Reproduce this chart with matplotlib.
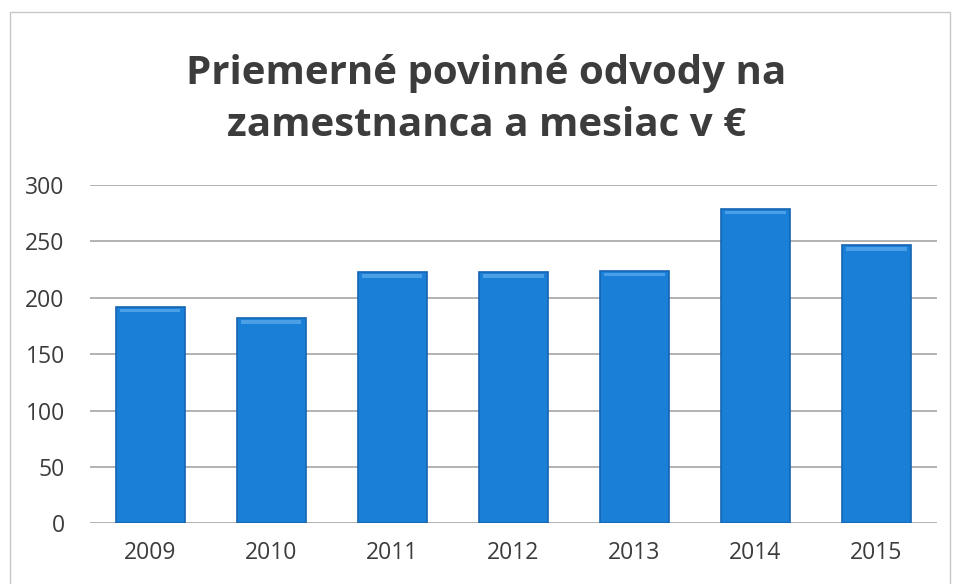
"""Average mandatory contributions per employee and month, bar chart."""

import matplotlib.pyplot as plt
from matplotlib.patches import Rectangle

YEARS = ["2009", "2010", "2011", "2012", "2013", "2014", "2015"]
VALUES = [192, 182, 223, 223, 224, 279, 247]
Y_TICKS = [0, 50, 100, 150, 200, 250, 300]
TITLE = "Priemerné povinné odvody na\nzamestnanca a mesiac v €"

BAR_COLOR = "#1a7fd6"
EDGE_COLOR = "#1565b0"
TEXT_COLOR = "#3c3c3c"


def main() -> None:
    plt.rcParams["font.family"] = ["Open Sans", "DejaVu Sans"]

    fig = plt.figure(figsize=(9.54, 5.84), dpi=100)
    ax = fig.add_axes([0.094, 0.104, 0.888, 0.579])

    x = range(len(YEARS))
    ax.bar(x, VALUES, width=0.57, color=BAR_COLOR, edgecolor=EDGE_COLOR,
           linewidth=1.2, zorder=3)
    # subtle bevel strip along the top of each bar
    ax.bar(x, [3] * len(VALUES), bottom=[v - 5 for v in VALUES], width=0.5,
           color="#4b9fe6", linewidth=0, zorder=4)

    ax.set_xlim(-0.5, len(YEARS) - 0.5)
    ax.set_ylim(0, 300)
    ax.set_yticks(Y_TICKS)
    ax.set_xticks(list(x))
    ax.set_xticklabels(YEARS)
    ax.grid(axis="y", color="#a6a6a6", linewidth=1.2, zorder=0)
    ax.set_axisbelow(True)
    for side in ["top", "right", "left", "bottom"]:
        ax.spines[side].set_visible(False)
    ax.tick_params(axis="y", length=0, pad=18, labelsize=16.5, labelcolor=TEXT_COLOR)
    ax.tick_params(axis="x", length=0, pad=13, labelsize=16.5, labelcolor=TEXT_COLOR)

    fig.text(0.51, 0.830, TITLE, ha="center", va="center", fontsize=29,
             fontweight="bold", color=TEXT_COLOR, linespacing=1.42)

    # scanned page frame
    fig.patches.append(Rectangle((0.011, -0.01), 0.985, 0.99, transform=fig.transFigure,
                                 fill=False, edgecolor="#c8c8c8", linewidth=1.0))

    fig.savefig("out.png", dpi=100, facecolor="white")


if __name__ == "__main__":
    main()
